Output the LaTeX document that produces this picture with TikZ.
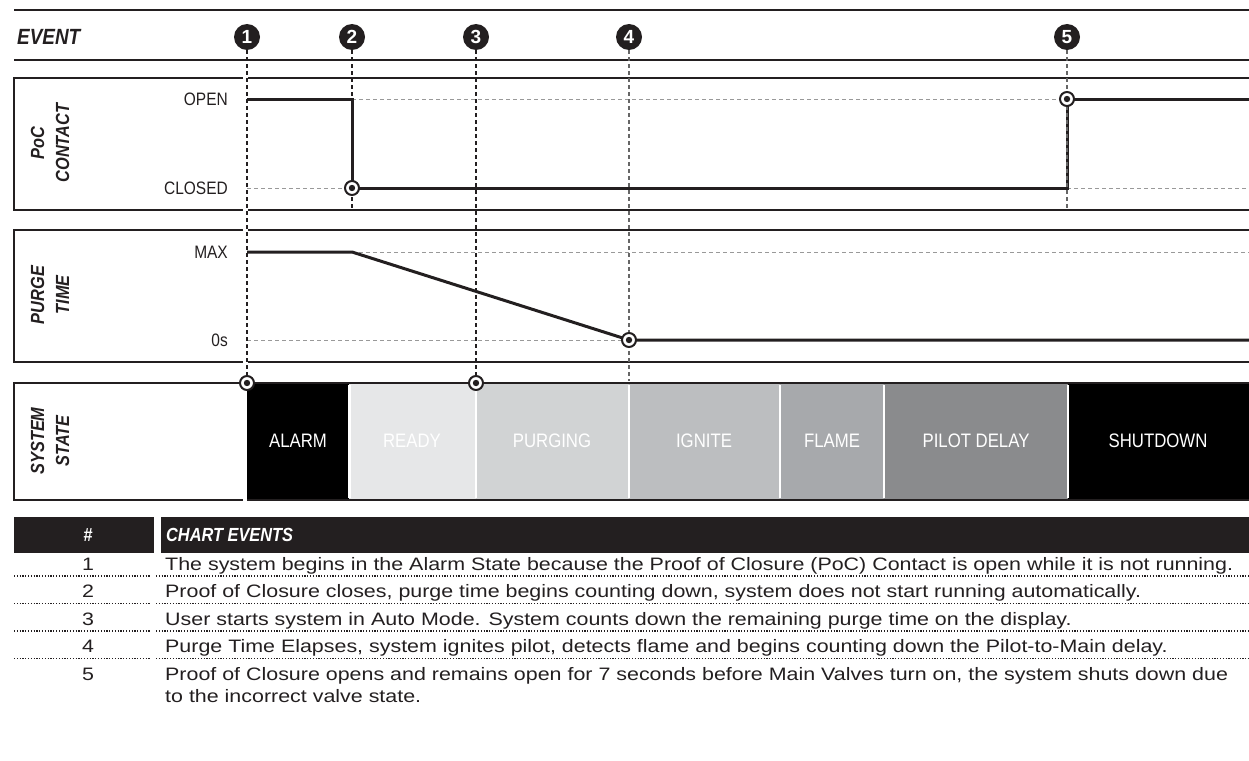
\documentclass[tikz,border=0pt]{standalone}
\usepackage{fontspec}
\setmainfont{Liberation Sans}
\newfontfamily\condf[FakeStretch=0.86]{Liberation Sans}
\newfontfamily\widef[FakeStretch=1.19]{Liberation Sans}
\definecolor{ink}{HTML}{231F20}
\definecolor{cready}{HTML}{E6E7E8}
\definecolor{cpurg}{HTML}{D1D3D4}
\definecolor{cign}{HTML}{BCBEC0}
\definecolor{cflame}{HTML}{A7A9AC}
\definecolor{cpilot}{HTML}{8A8B8D}
\begin{document}
\begin{tikzpicture}[x=1pt,y=-1pt,
  frame/.style={draw=ink,line width=2.6pt,line join=miter},
  sig/.style={draw=ink,line width=3pt,line join=miter},
  evline/.style={draw=ink,line width=1.1pt,dash pattern=on 4pt off 3pt},
  evgrey/.style={draw=black!60,line width=1.3pt,dash pattern=on 4pt off 3pt},
  guide/.style={draw=black!40,line width=0.9pt,dash pattern=on 4pt off 3pt},
  evmark/.style={circle,fill=ink,minimum size=26pt,inner sep=0pt,text=white,
    font=\bfseries\fontsize{19}{19}\selectfont},
  dotmark/.style={circle,draw=ink,fill=white,line width=2pt,minimum size=14pt,inner sep=0pt,
    path picture={\fill[ink] (path picture bounding box.center) circle (3.2pt);}},
  lvl/.style={anchor=east,text=ink,inner sep=0pt,font=\condf\fontsize{18}{18}\selectfont},
  side/.style={rotate=90,align=center,text=ink,inner sep=0pt,
    font=\condf\bfseries\itshape\fontsize{19}{25}\selectfont},
  stlab/.style={text=white,inner sep=0pt,font=\condf\fontsize{19.5}{19.5}\selectfont},
  hdr/.style={text=white,inner sep=0pt,font=\condf\bfseries\itshape\fontsize{19}{19}\selectfont},
  rowtxt/.style={anchor=base west,text=ink,inner sep=0pt,align=left,
    font=\widef\fontsize{18}{22.5}\selectfont},
  rownum/.style={anchor=base,text=ink,inner sep=0pt,font=\widef\fontsize{18}{22.5}\selectfont},
  dotsep/.style={draw=ink,line width=1.3pt,dash pattern=on 1.2pt off 1.6pt},
  sepw/.style={draw=white,line width=2.6pt}
]
\useasboundingbox (0,0) rectangle (1249,760);

% header lines
\draw[frame] (14,10) -- (1249,10);
\draw[frame] (14,60) -- (1249,60);
\node[anchor=west,text=ink,inner sep=0pt,font=\condf\bfseries\itshape\fontsize{22}{22}\selectfont] (evt) at (17,37) {EVENT};

% PoC box
\draw[frame] (243,78) -- (14,78) -- (14,210) -- (243,210);
\draw[frame] (248,78) -- (1249,78);
\draw[frame] (248,210) -- (1249,210);
% Purge box
\draw[frame] (243,230) -- (14,230) -- (14,362) -- (243,362);
\draw[frame] (248,230) -- (1249,230);
\draw[frame] (248,362) -- (1249,362);

% side labels
\node[side] (lpoc) at (50,143) {PoC\\CONTACT};
\node[side] (lpur) at (50,295) {PURGE\\TIME};
\node[side] (lsys) at (50,441) {SYSTEM\\STATE};

% level labels
\node[lvl] (lopen) at (228,99) {OPEN};
\node[lvl] (lclosed) at (228,188) {CLOSED};
\node[lvl] (lmax) at (228,252) {MAX};
\node[lvl] (lzero) at (228,340) {0s};

% state bar
\fill[black] (247,383) rectangle (349,500);
\fill[cready] (349,383) rectangle (476,500);
\fill[cpurg] (476,383) rectangle (629,500);
\fill[cign] (629,383) rectangle (780,500);
\fill[cflame] (780,383) rectangle (884,500);
\fill[cpilot] (884,383) rectangle (1068,500);
\fill[black] (1068,383) rectangle (1249,500);
\foreach \xx in {349.5,476,629,780,884,1068}
  \draw[sepw] (\xx,385) -- (\xx,498);
\draw[frame] (243,383) -- (14,383) -- (14,500) -- (243,500);
\draw[frame] (247,383) -- (1249,383);
\draw[frame] (247,500) -- (1249,500);

\node[stlab] (sa) at (298,441) {ALARM};
\node[stlab] (sr) at (412,441) {READY};
\node[stlab] (sp) at (552,441) {PURGING};
\node[stlab] (si) at (704,441) {IGNITE};
\node[stlab] (sf) at (832,441) {FLAME};
\node[stlab] (sd) at (976,441) {PILOT DELAY};
\node[stlab] (ss) at (1158,441) {SHUTDOWN};

% guides
\draw[guide] (352,99) -- (1067,99);
\draw[guide] (247,188) -- (352,188);
\draw[guide] (1067,188) -- (1249,188);
\draw[guide] (352,252) -- (1249,252);
\draw[guide] (247,340) -- (629,340);

% signals
\draw[sig] (247,99) -- (352,99) -- (352,188) -- (1067,188) -- (1067,99) -- (1249,99);
\draw[sig] (247,252) -- (352,252) -- (629,340) -- (1249,340);

% event markers
\node[evmark] (e1) at (247,37) {1};
\node[evmark] (e2) at (352,37) {2};
\node[evmark] (e3) at (476,37) {3};
\node[evmark] (e4) at (629,37) {4};
\node[evmark] (e5) at (1067,37) {5};
\coordinate (c1) at (247,377);
\coordinate (c2) at (352,210);
\coordinate (c3) at (476,377);
\coordinate (c4) at (629,381);
\coordinate (c5) at (1067,210);
\draw[evline] (e1.south) -- (c1);
\draw[evline] (e2.south) -- (c2);
\draw[evline] (e3.south) -- (c3);
\draw[evgrey] (e4.south) -- (c4);
\draw[evgrey] (e5.south) -- (c5);

% dot markers
\node[dotmark] (p2) at (352,188) {};
\node[dotmark] (p5) at (1067,99) {};
\node[dotmark] (p4) at (629,340) {};
\node[dotmark] (p1) at (247,383) {};
\node[dotmark] (p3) at (476,383) {};

% table
\fill[ink] (14,517) rectangle (154,553);
\fill[ink] (161,517) rectangle (1249,553);
\node[hdr] (hnum) at (88,535) {\#};
\node[hdr,anchor=west] (htxt) at (166,535) {CHART EVENTS};

\node[rownum] (n1) at (88,570) {1};
\node[rowtxt] (t1) at (165,570) {The system begins in the Alarm State because the Proof of Closure (PoC) Contact is open while it is not running.};
\node[rownum] (n2) at (88,597.5) {2};
\node[rowtxt] (t2) at (165,597.5) {Proof of Closure closes, purge time begins counting down, system does not start running automatically.};
\node[rownum] (n3) at (88,625) {3};
\node[rowtxt] (t3) at (165,625) {User starts system in Auto Mode. System counts down the remaining purge time on the display.};
\node[rownum] (n4) at (88,652.5) {4};
\node[rowtxt] (t4) at (165,652.5) {Purge Time Elapses, system ignites pilot, detects flame and begins counting down the Pilot-to-Main delay.};
\node[rownum] (n5) at (88,680) {5};
\node[rowtxt] (t5) at (165,702.5) {Proof of Closure opens and remains open for 7 seconds before Main Valves turn on, the system shuts down due\\to the incorrect valve state.};

\foreach \yy in {576,603.5,631,658.5} {
  \draw[dotsep] (14,\yy) -- (150,\yy);
  \draw[dotsep] (156,\yy) -- (1249,\yy);
}
\end{tikzpicture}
\end{document}
